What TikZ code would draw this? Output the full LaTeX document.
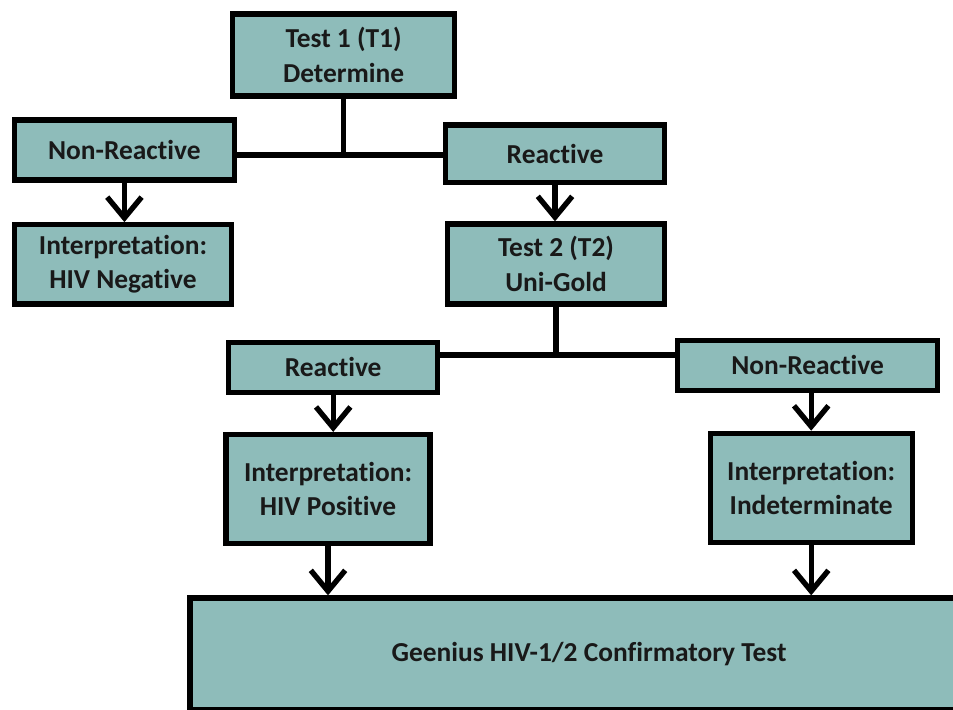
\documentclass[tikz,border=0pt]{standalone}
\usepackage{fontspec}
\setmainfont[Ligatures={NoCommon}]{Carlito}
\usepackage{tikz}
\usetikzlibrary{arrows.meta, positioning}
\usetikzlibrary{calc}
\definecolor{boxteal}{RGB}{142,188,186}

\begin{document}
\begin{tikzpicture}[
		box/.style={draw=black, fill=boxteal, line width=3.8pt, inner sep=0pt, align=center, font=\fontsize{19.5}{24.5}\selectfont\bfseries, text=black!90},
		link/.style={line width=3.8pt},
		down/.style={line width=3.8pt, -{Straight Barb[length=5.2mm, width=8.6mm]}}
	]
				\useasboundingbox (0,0) rectangle (23.825,-17.725);
				\node[box, minimum width=5.55cm, minimum height=2.05cm] (t1) at (8.59,-1.375) {Test 1 (T1)\\Determine};
				\node[box, minimum width=5.5cm, minimum height=1.5cm] (nonreactA) at (3.11,-3.75) {Non-Reactive};
				\node[box, minimum width=5.48cm, minimum height=1.43cm] (reactA) at (13.875,-3.84) {Reactive};
				\node[box, minimum width=5.43cm, minimum height=1.98cm] (negative) at (3.075,-6.61) {Interpretation:\\HIV Negative};
				\node[box, minimum width=5.43cm, minimum height=2cm] (t2) at (13.9,-6.6) {Test 2 (T2)\\Uni-Gold};
				\node[box, minimum width=5.23cm, minimum height=1.25cm] (reactB) at (8.33,-9.18) {Reactive};
				\node[box, minimum width=6.5cm, minimum height=1.25cm] (nonreactB) at (20.19,-9.13) {Non-Reactive};
				\node[box, minimum width=5.1cm, minimum height=2.73cm] (positive) at (8.2,-12.23) {Interpretation:\\HIV Positive};
				\node[box, minimum width=5.05cm, minimum height=2.73cm] (indet) at (20.28,-12.2) {Interpretation:\\Indeterminate};
				\node[box, minimum width=19.95cm, minimum height=2.8cm] (geenius) at (14.725,-16.35) {Geenius HIV-1/2 Confirmatory Test};
				\coordinate (j1) at (8.59,-3.875);
				\coordinate (j2) at (13.9,-8.875);
				\draw[link] (t1.south) -- (j1);
				\draw[link] (nonreactA.east |- j1) -- (reactA.west |- j1);
				\draw[link] (t2.south) -- (j2);
				\draw[link] (reactB.east |- j2) -- (nonreactB.west |- j2);
				\draw[down] (nonreactA.south) -- (negative.north -| nonreactA.south);
				\draw[down] (reactA.south) -- (t2.north -| reactA.south);
				\draw[down] (reactB.south) -- (positive.north -| reactB.south);
				\draw[down] (nonreactB.south -| indet.north) -- (indet.north);
				\draw[down] (positive.south) -- (geenius.north -| positive.south);
				\draw[down] (indet.south) -- (geenius.north -| indet.south);
			\end{tikzpicture}
\end{document}
